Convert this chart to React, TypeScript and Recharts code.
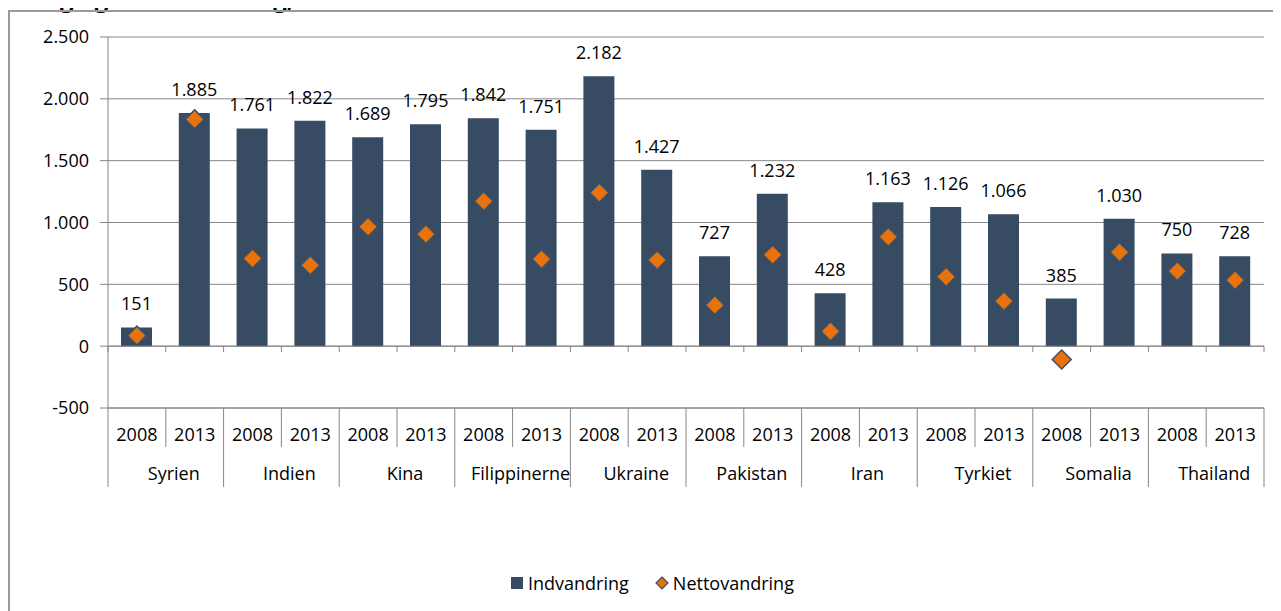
import React from "react";
import {
  ComposedChart,
  Bar,
  Scatter,
  XAxis,
  YAxis,
  CartesianGrid,
  LabelList,
  ReferenceLine,
  ReferenceDot,
} from "recharts";

// ---- data ----
const countries = [
  "Syrien",
  "Indien",
  "Kina",
  "Filippinerne",
  "Ukraine",
  "Pakistan",
  "Iran",
  "Tyrkiet",
  "Somalia",
  "Thailand",
];
const years = ["2008", "2013"];
const indvandring = [
  151, 1885, 1761, 1822, 1689, 1795, 1842, 1751, 2182, 1427, 727, 1232, 428,
  1163, 1126, 1066, 385, 1030, 750, 728,
];
const nettovandring = [
  85, 1834, 709, 655, 965, 906, 1173, 704, 1240, 696, 332, 739, 121, 884, 561,
  364, -108, 760, 607, 534,
];
const yTicks = [-500, 0, 500, 1000, 1500, 2000, 2500];
const seriesNames = ["Indvandring", "Nettovandring"];

// ---- styles ----
const BAR_COLOR = "#374C62";
const DIAMOND_FILL = "#E8730C";
const DIAMOND_STROKE = "#3B5068";
const AXIS_COLOR = "#868686";
const FONT = "'Open Sans', sans-serif";
const FONT_SIZE = 18;
const YEAR_AXIS = "a_year";
const COUNTRY_AXIS = "b_country";

const data = indvandring.map((v, i) => ({
  idx: i,
  year: years[i % 2],
  country: countries[Math.floor(i / 2)],
  ind: v,
  net: nettovandring[i],
}));
const idxTicks = data.map((d) => d.idx);
const groupCenters = countries.map((_, g) => g * 2 + 0.5);
const boundaries = Array.from({ length: data.length + 1 }, (_, i) => ({
  x: i - 0.5,
  major: i % 2 === 0,
}));

const fmt = (v: number) => {
  const s = Math.abs(Math.round(v))
    .toString()
    .replace(/\B(?=(\d{3})+(?!\d))/g, ".");
  return (v < 0 ? "-" : "") + s;
};

const Diamond = (props: any) => {
  const { cx, cy } = props;
  if (cx == null || cy == null) return null;
  const h = 9.5;
  return (
    <path
      d={`M${cx},${cy - h} L${cx + h},${cy} L${cx},${cy + h} L${cx - h},${cy} Z`}
      fill={DIAMOND_FILL}
      stroke={DIAMOND_STROKE}
      strokeWidth={1.5}
    />
  );
};

const CountryTick = (props: any) => {
  const { x, y, payload } = props;
  const g = Math.round((payload.value - 0.5) / 2);
  return (
    <text
      x={x + 8}
      y={y}
      dy="0.71em"
      textAnchor="middle"
      fill="#000"
      fontSize={FONT_SIZE}
      fontFamily={FONT}
    >
      {countries[g]}
    </text>
  );
};

const YearTick = (props: any) => {
  const { x, y, payload } = props;
  return (
    <text
      x={x}
      y={y}
      dy="0.71em"
      textAnchor="middle"
      fill="#000"
      fontSize={FONT_SIZE}
      fontFamily={FONT}
    >
      {years[payload.value % 2]}
    </text>
  );
};

export default function App() {
  return (
    <div
      style={{
        position: "relative",
        width: 1273,
        height: 603,
        overflow: "hidden",
        fontFamily: FONT,
        background: "#fff",
      }}
    >
      <div
        style={{
          position: "absolute",
          left: -80,
          top: -22,
          fontSize: 24,
          lineHeight: "24px",
          fontWeight: 700,
          whiteSpace: "nowrap",
          color: "#000",
        }}
      >
        Indvandring og nettovandring, antal
      </div>
      <div
        style={{
          position: "absolute",
          left: 0,
          top: 2,
          width: 1400,
          height: 800,
          borderLeft: "2px solid #9a9a9a",
          borderTop: "2px solid #9a9a9a",
        }}
      />
      <div style={{ position: "absolute", left: 0, top: 0 }}>
        <ComposedChart
          width={1273}
          height={600}
          data={data}
          margin={{ top: 29, right: 17, bottom: 121, left: 0 }}
          style={{ fontFamily: FONT }}
        >
          <CartesianGrid
            horizontal
            vertical={false}
            stroke={AXIS_COLOR}
            yAxisId="y"
            xAxisId={YEAR_AXIS}
          />
          <XAxis
            xAxisId={YEAR_AXIS}
            dataKey="idx"
            type="number"
            domain={[-0.5, data.length - 0.5]}
            ticks={idxTicks}
            interval={0}
            tick={<YearTick />}
            tickLine={false}
            tickSize={0}
            tickMargin={20}
            axisLine={{ stroke: AXIS_COLOR }}
            height={39}
            allowDecimals
          />
          <XAxis
            xAxisId={COUNTRY_AXIS}
            dataKey="idx"
            type="number"
            domain={[-0.5, data.length - 0.5]}
            ticks={groupCenters}
            interval={0}
            tick={<CountryTick />}
            tickLine={false}
            tickSize={0}
            tickMargin={20}
            axisLine={false}
            height={40}
            allowDecimals
          />
          <YAxis
            yAxisId="y"
            type="number"
            domain={[-500, 2500]}
            ticks={yTicks}
            interval={0}
            width={100}
            tickSize={8}
            tickMargin={11}
            tickLine={{ stroke: AXIS_COLOR }}
            axisLine={{ stroke: AXIS_COLOR }}
            tickFormatter={fmt}
            tick={{ fill: "#000", fontSize: FONT_SIZE, fontFamily: FONT }}
          />
          <ReferenceLine
            y={0}
            yAxisId="y"
            xAxisId={YEAR_AXIS}
            stroke={AXIS_COLOR}
          />
          {boundaries.map((b) => (
            <ReferenceDot
              key={`z${b.x}`}
              x={b.x}
              y={0}
              xAxisId={YEAR_AXIS}
              yAxisId="y"
              ifOverflow="visible"
              shape={(p: any) => (
                <line
                  x1={p.cx}
                  x2={p.cx}
                  y1={p.cy}
                  y2={p.cy + 6}
                  stroke={AXIS_COLOR}
                  strokeWidth={1}
                />
              )}
            />
          ))}
          {boundaries.map((b) => (
            <ReferenceDot
              key={`s${b.x}`}
              x={b.x}
              y={-500}
              xAxisId={YEAR_AXIS}
              yAxisId="y"
              ifOverflow="visible"
              shape={(p: any) => (
                <line
                  x1={p.cx}
                  x2={p.cx}
                  y1={p.cy}
                  y2={p.cy + (b.major ? 79 : 39)}
                  stroke={AXIS_COLOR}
                  strokeWidth={1}
                />
              )}
            />
          ))}
          <Bar
            dataKey="ind"
            name={seriesNames[0]}
            xAxisId={YEAR_AXIS}
            yAxisId="y"
            fill={BAR_COLOR}
            barSize={31}
            isAnimationActive={false}
          >
            <LabelList
              dataKey="ind"
              position="top"
              offset={17}
              formatter={(v: any) => fmt(Number(v))}
              fill="#000"
              fontSize={FONT_SIZE}
              fontFamily={FONT}
            />
          </Bar>
          <Scatter
            dataKey="net"
            name={seriesNames[1]}
            xAxisId={YEAR_AXIS}
            yAxisId="y"
            shape={<Diamond />}
            isAnimationActive={false}
          />
        </ComposedChart>
      </div>
      <div
        style={{
          position: "absolute",
          left: 503,
          top: 563,
          display: "flex",
          alignItems: "center",
          fontSize: FONT_SIZE,
          color: "#000",
          whiteSpace: "nowrap",
        }}
      >
        <span
          style={{
            display: "inline-block",
            width: 12,
            height: 12,
            background: BAR_COLOR,
            marginRight: 5,
          }}
        />
        <span>{seriesNames[0]}</span>
        <svg width={14} height={14} style={{ marginLeft: 26, marginRight: 4 }}>
          <path
            d="M7,1 L13,7 L7,13 L1,7 Z"
            fill={DIAMOND_FILL}
            stroke={DIAMOND_STROKE}
            strokeWidth={1.2}
          />
        </svg>
        <span>{seriesNames[1]}</span>
      </div>
    </div>
  );
}
